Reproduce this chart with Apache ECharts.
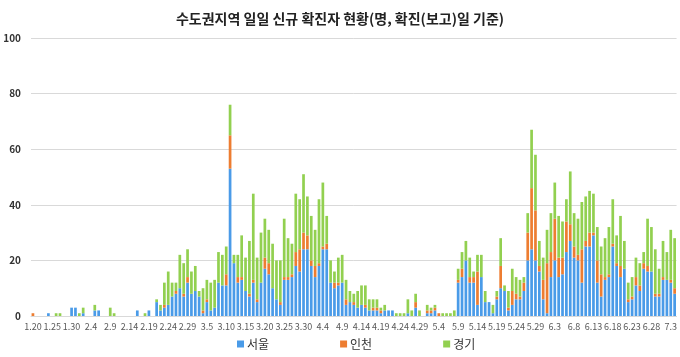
<!DOCTYPE html>
<html><head><meta charset="utf-8">
<script src="https://cdn.jsdelivr.net/npm/echarts@6/dist/echarts.min.js"></script>
<style>html,body{margin:0;padding:0;background:#fff}#c{width:680px;height:357px}</style>
</head><body><div id="c"></div>
<script>
const categories = [
"1.20","1.21","1.22","1.23","1.24","1.25","1.26","1.27","1.28","1.29","1.30","1.31",
"2.1","2.2","2.3","2.4","2.5","2.6","2.7","2.8","2.9","2.10","2.11","2.12","2.13","2.14","2.15","2.16","2.17","2.18","2.19","2.20","2.21","2.22","2.23","2.24","2.25","2.26","2.27","2.28","2.29",
"3.1","3.2","3.3","3.4","3.5","3.6","3.7","3.8","3.9","3.10","3.11","3.12","3.13","3.14","3.15","3.16","3.17","3.18","3.19","3.20","3.21","3.22","3.23","3.24","3.25","3.26","3.27","3.28","3.29","3.30","3.31",
"4.1","4.2","4.3","4.4","4.5","4.6","4.7","4.8","4.9","4.10","4.11","4.12","4.13","4.14","4.15","4.16","4.17","4.18","4.19","4.20","4.21","4.22","4.23","4.24","4.25","4.26","4.27","4.28","4.29","4.30",
"5.1","5.2","5.3","5.4","5.5","5.6","5.7","5.8","5.9","5.10","5.11","5.12","5.13","5.14","5.15","5.16","5.17","5.18","5.19","5.20","5.21","5.22","5.23","5.24","5.25","5.26","5.27","5.28","5.29","5.30","5.31",
"6.1","6.2","6.3","6.4","6.5","6.6","6.7","6.8","6.9","6.10","6.11","6.12","6.13","6.14","6.15","6.16","6.17","6.18","6.19","6.20","6.21","6.22","6.23","6.24","6.25","6.26","6.27","6.28","6.29","6.30",
"7.1","7.2","7.3","7.4"];

const seoul = [
0,0,0,0,1,0,0,0,0,0,3,3,
0,1,0,0,2,2,0,0,0,0,0,0,0,0,0,2,0,0,2,0,5,2,3,4,7,8,10,7,12,
8,9,7,1,5,2,3,12,11,11,53,19,12,13,9,7,12,5,12,17,15,10,6,4,13,13,14,18,16,24,24,
18,14,18,24,24,12,10,11,12,4,5,4,3,4,3,2,2,2,1,2,2,2,0,0,0,1,0,3,0,0,
1,1,2,0,0,0,0,0,12,14,20,12,12,4,14,5,5,1,6,10,9,2,4,6,6,9,20,24,20,16,6,
1,14,20,14,15,23,27,21,20,12,25,25,29,12,7,13,14,25,18,14,17,5,6,11,9,17,16,16,7,7,
13,13,12,8];

const incheon = [
1,0,0,0,0,0,0,0,0,0,0,0,
0,0,0,0,0,0,0,0,0,0,0,0,0,0,0,0,0,0,0,0,0,0,1,0,0,1,0,1,2,
0,0,0,1,1,0,0,0,0,4,12,0,2,1,0,1,1,1,0,4,4,0,0,1,1,1,1,5,8,6,5,
2,4,1,1,2,0,2,1,0,2,0,1,0,0,1,0,1,1,1,0,0,0,0,0,0,0,0,2,0,0,
1,1,1,1,0,0,0,0,1,3,0,2,2,12,0,0,0,0,1,8,0,1,5,2,1,3,10,22,18,2,7,
18,9,15,7,6,11,6,4,2,12,2,5,1,8,8,1,1,1,1,4,0,1,1,3,2,2,2,0,1,1,
1,0,1,2];

const gyeonggi = [
0,0,0,0,0,0,1,1,0,0,0,0,
1,2,0,0,2,0,0,0,3,1,0,0,0,0,0,0,0,1,0,0,1,2,8,12,5,3,12,11,10,
8,9,2,8,7,10,10,11,11,10,11,3,8,15,12,19,31,15,18,14,12,16,14,15,21,14,11,21,18,21,14,
16,13,23,23,10,8,4,9,10,7,4,3,6,7,7,4,3,3,1,2,0,0,1,1,1,5,2,3,2,0,
2,1,1,0,1,1,1,2,4,6,7,7,2,6,8,4,0,3,2,10,2,6,8,6,6,2,7,21,20,9,8,
12,14,13,15,13,8,19,12,13,17,16,15,14,12,10,14,17,16,10,18,10,6,7,7,8,4,17,16,16,9,
13,10,18,18];

const seriesNames = ["서울","인천","경기"];
const colors = ["#4A9BE8","#ED7D31","#92D050"];
const yTicks = {min:0, max:100, interval:20};
const FONT = '"Noto Sans CJK KR","Noto Sans",sans-serif';

const chart = echarts.init(document.getElementById('c'), null, {renderer:'canvas'});
const dataSets = [seoul, incheon, gyeonggi];
chart.setOption({
  animation:false,
  textStyle:{fontFamily:FONT},
  title:{text:"수도권지역 일일 신규 확진자 현황(명, 확진(보고)일 기준)",left:'center',top:7,
    textStyle:{fontFamily:FONT,fontSize:14,fontWeight:'bold',color:'#222'}},
  legend:{data:seriesNames,left:237,top:338,itemWidth:7,itemHeight:7,itemGap:71,icon:'rect',padding:0,
    textStyle:{fontFamily:FONT,fontSize:12,color:'#333',padding:[0,0,0,-2]}},
  grid:{left:31,right:3,top:38,bottom:41},
  xAxis:{type:'category',data:categories,
    axisLine:{lineStyle:{color:'#D9D9D9'}},axisTick:{show:false},
    axisLabel:{interval:4,fontSize:9,color:'#595959',margin:6,fontFamily:FONT}},
  yAxis:{type:'value',min:yTicks.min,max:yTicks.max,interval:yTicks.interval,
    axisLine:{show:false},axisTick:{show:false},
    splitLine:{lineStyle:{color:'#D9D9D9'}},
    axisLabel:{fontSize:10,color:'#333',fontWeight:'bold',margin:10,fontFamily:FONT}},
  series:seriesNames.map((n,k)=>({name:n,type:'bar',stack:'all',data:dataSets[k],
    barCategoryGap:'30%',itemStyle:{color:colors[k]}}))
});
</script></body></html>
